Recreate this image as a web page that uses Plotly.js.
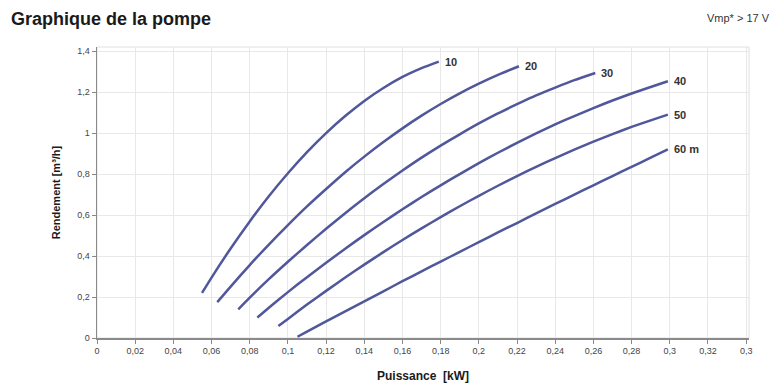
<!DOCTYPE html>
<html>
<head>
<meta charset="utf-8">
<script src="https://cdn.plot.ly/plotly-3.0.1.min.js"></script>
<style>
  html, body { margin: 0; padding: 0; background: #fff; }
  #chart { width: 775px; height: 387px; }
</style>
</head>
<body>
<div id="chart"></div>
<script>
// Head (m) labels for each curve
const curveLabels = ["10", "20", "30", "40", "50", "60 m"];

// Puissance [kW] (x) and Rendement [m³/h] (y) per curve
const x10 = [0.055, 0.06, 0.07, 0.08, 0.09, 0.10, 0.11, 0.12, 0.13, 0.14, 0.15, 0.16, 0.17, 0.179];
const y10 = [0.22, 0.295, 0.437, 0.569, 0.692, 0.804, 0.907, 1.000, 1.083, 1.157, 1.220, 1.274, 1.317, 1.349];

const x20 = [0.063, 0.07, 0.08, 0.09, 0.10, 0.11, 0.12, 0.13, 0.14, 0.15, 0.16, 0.17, 0.18, 0.19, 0.20, 0.21, 0.221];
const y20 = [0.175, 0.251, 0.356, 0.456, 0.551, 0.642, 0.727, 0.809, 0.885, 0.956, 1.023, 1.085, 1.142, 1.194, 1.241, 1.284, 1.326];

const x30 = [0.074, 0.08, 0.09, 0.10, 0.11, 0.12, 0.13, 0.14, 0.15, 0.16, 0.17, 0.18, 0.19, 0.20, 0.21, 0.22, 0.23, 0.24, 0.25, 0.261];
const y30 = [0.14, 0.197, 0.287, 0.372, 0.454, 0.533, 0.609, 0.682, 0.751, 0.817, 0.880, 0.939, 0.994, 1.047, 1.096, 1.141, 1.184, 1.222, 1.258, 1.293];

const x40 = [0.084, 0.09, 0.10, 0.11, 0.12, 0.13, 0.14, 0.15, 0.16, 0.17, 0.18, 0.19, 0.20, 0.21, 0.22, 0.23, 0.24, 0.25, 0.26, 0.27, 0.28, 0.29, 0.299];
const y40 = [0.10, 0.148, 0.224, 0.297, 0.367, 0.436, 0.502, 0.566, 0.628, 0.688, 0.745, 0.800, 0.853, 0.904, 0.952, 0.998, 1.042, 1.083, 1.122, 1.159, 1.193, 1.225, 1.253];

const x50 = [0.095, 0.10, 0.11, 0.12, 0.13, 0.14, 0.15, 0.16, 0.17, 0.18, 0.19, 0.20, 0.21, 0.22, 0.23, 0.24, 0.25, 0.26, 0.27, 0.28, 0.29, 0.299];
const y50 = [0.058, 0.093, 0.163, 0.230, 0.295, 0.358, 0.419, 0.478, 0.535, 0.590, 0.643, 0.694, 0.743, 0.790, 0.835, 0.878, 0.919, 0.958, 0.995, 1.030, 1.062, 1.090];

const x60 = [0.105, 0.11, 0.12, 0.13, 0.14, 0.15, 0.16, 0.17, 0.18, 0.19, 0.20, 0.21, 0.22, 0.23, 0.24, 0.25, 0.26, 0.27, 0.28, 0.29, 0.299];
const y60 = [0.006, 0.031, 0.081, 0.130, 0.179, 0.228, 0.277, 0.325, 0.373, 0.420, 0.468, 0.515, 0.561, 0.608, 0.654, 0.700, 0.745, 0.790, 0.835, 0.880, 0.920];

// Tick labels
const xTickVals = [0, 0.02, 0.04, 0.06, 0.08, 0.1, 0.12, 0.14, 0.16, 0.18, 0.2, 0.22, 0.24, 0.26, 0.28, 0.3, 0.32, 0.34];
const xTickText = ["0", "0,02", "0,04", "0,06", "0,08", "0,1", "0,12", "0,14", "0,16", "0,18", "0,2", "0,22", "0,24", "0,26", "0,28", "0,3", "0,32", "0,3"];
const yTickVals = [0, 0.2, 0.4, 0.6, 0.8, 1, 1.2, 1.4];
const yTickText = ["0", "0,2", "0,4", "0,6", "0,8", "1", "1,2", "1,4"];

const xs = [x10, x20, x30, x40, x50, x60];
const ys = [y10, y20, y30, y40, y50, y60];

const lineColor = "#50579a";
const traces = xs.map((x, i) => ({
  type: "scatter",
  mode: "lines",
  x: x,
  y: ys[i],
  name: curveLabels[i],
  line: { color: lineColor, width: 2.5, shape: "spline", smoothing: 0.6 },
  hoverinfo: "skip"
}));

const labelFont = { family: "Liberation Sans, Arial, sans-serif", size: 11, color: "#333", weight: "bold" };
const annotations = xs.map((x, i) => ({
  x: x[x.length - 1],
  y: ys[i][ys[i].length - 1],
  xref: "x", yref: "y",
  text: curveLabels[i],
  showarrow: false,
  xanchor: "left",
  yanchor: "middle",
  xshift: 4,
  font: labelFont
}));

const plotL = 97, plotR = 26, plotT = 46.6, plotB = 49.4;
const plotW = 775 - plotL - plotR, plotH = 387 - plotT - plotB;

annotations.push({
  xref: "paper", yref: "paper",
  x: (772 - plotL) / plotW,
  y: 1 + (plotT - 18) / plotH,
  xanchor: "right", yanchor: "middle",
  text: "Vmp* > 17 V",
  showarrow: false,
  font: { family: "Liberation Sans, Arial, sans-serif", size: 11, color: "#333" }
});

const layout = {
  width: 775,
  height: 387,
  margin: { l: plotL, r: plotR, t: plotT, b: plotB, pad: 0 },
  paper_bgcolor: "#ffffff",
  plot_bgcolor: "#ffffff",
  showlegend: false,
  font: { family: "Liberation Sans, Arial, sans-serif", color: "#444" },
  title: {
    text: "Graphique de la pompe",
    xref: "container", yref: "container",
    x: 11 / 775, xanchor: "left",
    y: 1 - 19 / 387, yanchor: "middle",
    font: { family: "Liberation Sans, Arial, sans-serif", size: 18, color: "#1a1a1a", weight: "bold" }
  },
  xaxis: {
    range: [0, 0.3415],
    tickvals: xTickVals,
    ticktext: xTickText,
    ticks: "outside",
    ticklen: 4,
    tickcolor: "#888",
    tickfont: { size: 9, color: "#444" },
    showgrid: true,
    gridcolor: "#e8e8e8",
    gridwidth: 1,
    showline: true,
    linecolor: "#8a8a8a",
    linewidth: 1.5,
    zeroline: false,
    title: {
      text: "Puissance  [kW]",
      standoff: 16,
      font: { size: 12, color: "#1a1a1a", weight: "bold" }
    }
  },
  yaxis: {
    range: [0, 1.42],
    tickvals: yTickVals,
    ticktext: yTickText,
    ticks: "outside",
    ticklen: 4,
    tickcolor: "#888",
    tickfont: { size: 9, color: "#444" },
    showgrid: true,
    gridcolor: "#e8e8e8",
    gridwidth: 1,
    showline: true,
    linecolor: "#8a8a8a",
    linewidth: 1.5,
    zeroline: false,
    title: {
      text: "Rendement [m³/h]",
      standoff: 14,
      font: { size: 11, color: "#1a1a1a", weight: "bold" }
    }
  },
  shapes: [{
    type: "rect", xref: "paper", yref: "paper",
    x0: 0, x1: 1, y0: 0, y1: 1,
    line: { color: "#e0e0e0", width: 1 },
    layer: "below"
  }],
  annotations: annotations
};

Plotly.newPlot("chart", traces, layout, { displayModeBar: false, staticPlot: true });
</script>
</body>
</html>
